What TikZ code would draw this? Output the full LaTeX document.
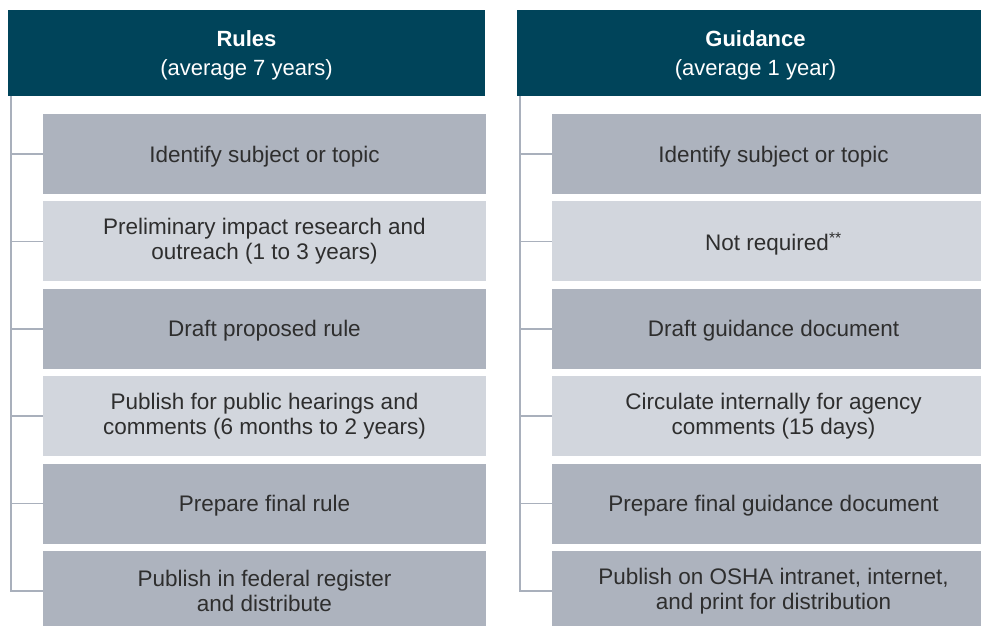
\documentclass[tikz,border=0pt]{standalone}
\usepackage{fontspec}
\setmainfont{Liberation Sans}
\definecolor{HTeal}{HTML}{00445A}
\definecolor{DGray}{HTML}{ADB3BE}
\definecolor{LGray}{HTML}{D2D6DD}
\definecolor{trunk}{HTML}{A9B0BC}
\definecolor{ink}{HTML}{2E2E2E}

% two-line header text, pushed down a little by a strut
\newcommand{\HeadText}[2]{\rule{0pt}{20.5pt}\textbf{#1}\\#2}

\tikzset{
    head/.style={fill=HTeal, text=white, minimum width=477pt, minimum height=86pt,
        inner sep=0pt, align=center, font=\fontsize{22}{28.5}\selectfont},
    stepdark/.style={fill=DGray, text=ink, minimum width=443pt, minimum height=80pt,
        inner sep=0pt, align=center, font=\fontsize{22.5}{25}\selectfont},
    steplight/.style={stepdark, fill=LGray},
    oneline/.style={text depth=0pt},
    branch/.style={trunk, line width=1.5pt}
}

\begin{document}
\begin{tikzpicture}[x=1pt, y=-1pt]
\useasboundingbox (0,0) rectangle (981,625);

% left column
\begin{scope}[shift={(8,0)}, name prefix=R-]
    \node[head] (head) at (238.5,53) {\HeadText{Rules}{(average 7 years)}};
    \coordinate (top) at (3,96);
    \node[stepdark, oneline]  (s1) at (256.5,154)   {Identify subject or topic};
    \node[steplight] (s2) at (256.5,241.4) {Preliminary impact research and\\outreach (1 to 3 years)};
    \node[stepdark, oneline]  (s3) at (256.5,328.8) {Draft proposed rule};
    \node[steplight] (s4) at (256.5,416.2) {Publish for public hearings and\\comments (6 months to 2 years)};
    \node[stepdark, oneline]  (s5) at (256.5,503.6) {Prepare final rule};
    \node[stepdark]  (s6) at (256.5,591)   {Publish in federal register\\and distribute};
\end{scope}

% right column, runs off the edge
\begin{scope}[shift={(517,0)}, name prefix=G-]
    \node[head] (head) at (238.5,53) {\HeadText{Guidance}{(average 1 year)}};
    \coordinate (top) at (3,96);
    \node[stepdark, oneline]  (s1) at (256.5,154)   {Identify subject or topic};
    \node[steplight, oneline] (s2) at (256.5,241.4) {Not required\textsuperscript{**}};
    \node[stepdark, oneline]  (s3) at (256.5,328.8) {Draft guidance document};
    \node[steplight] (s4) at (256.5,416.2) {Circulate internally for agency\\comments (15 days)};
    \node[stepdark, oneline]  (s5) at (256.5,503.6) {Prepare final guidance document};
    \node[stepdark]  (s6) at (256.5,591)   {Publish on OSHA intranet, internet,\\and print for distribution};
\end{scope}

\draw[branch] (R-top) |- (R-s6.west);
\draw[branch] (R-top |- R-s1.west) -- (R-s1.west);
\draw[branch] (R-top |- R-s2.west) -- (R-s2.west);
\draw[branch] (R-top |- R-s3.west) -- (R-s3.west);
\draw[branch] (R-top |- R-s4.west) -- (R-s4.west);
\draw[branch] (R-top |- R-s5.west) -- (R-s5.west);

\draw[branch] (G-top) |- (G-s6.west);
\draw[branch] (G-top |- G-s1.west) -- (G-s1.west);
\draw[branch] (G-top |- G-s2.west) -- (G-s2.west);
\draw[branch] (G-top |- G-s3.west) -- (G-s3.west);
\draw[branch] (G-top |- G-s4.west) -- (G-s4.west);
\draw[branch] (G-top |- G-s5.west) -- (G-s5.west);
\end{tikzpicture}
\end{document}
